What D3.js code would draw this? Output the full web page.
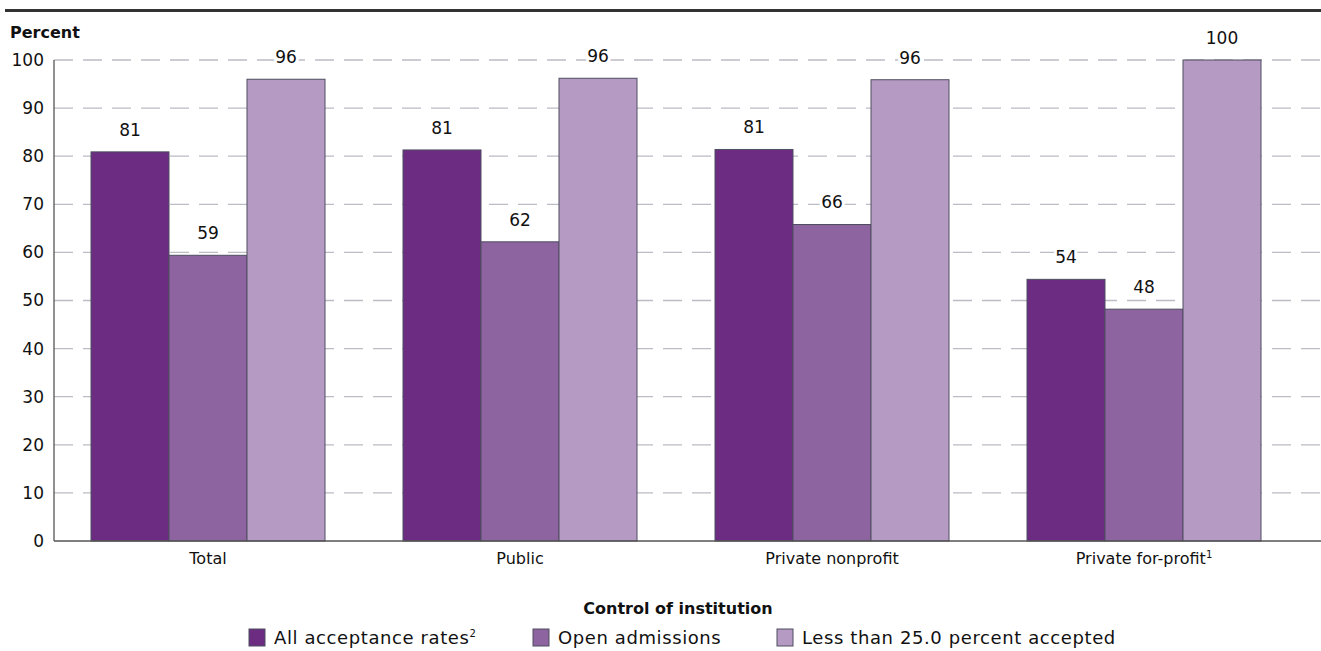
<!DOCTYPE html>
<html>
<head>
<meta charset="utf-8">
<script src="https://cdn.jsdelivr.net/npm/d3@7"></script>
<style>
body{margin:0;background:#fff;}
svg{display:block;font-family:"DejaVu Sans",sans-serif;}
</style>
</head>
<body>
<svg id="chart" width="1321" height="651"></svg>
<script>
const categories = ["Total", "Public", "Private nonprofit", "Private for-profit"];
const categorySup = ["", "", "", "1"];
const seriesNames = ["All acceptance rates", "Open admissions", "Less than 25.0 percent accepted"];
const seriesSup = ["2", "", ""];
const allAcceptance = [80.9, 81.3, 81.4, 54.4];
const openAdmissions = [59.4, 62.2, 65.8, 48.2];
const lessThan25 = [96.0, 96.2, 95.9, 100];
const yTicks = [0, 10, 20, 30, 40, 50, 60, 70, 80, 90, 100];
const colors = ["#6b2c82", "#8d63a0", "#b59ac3"];

const svg = d3.select("#chart");
const W = 1321;
const series = [allAcceptance, openAdmissions, lessThan25];

// top rule
svg.append("line").attr("x1", 5).attr("x2", W).attr("y1", 10.5).attr("y2", 10.5)
  .attr("stroke", "#333").attr("stroke-width", 3);

const x0 = d3.scaleBand().domain(categories).range([52, 1300]).paddingInner(0).paddingOuter(0);
const groupW = 234;
const x1 = d3.scaleBand().domain(d3.range(3)).range([0, groupW]);
const y = d3.scaleLinear().domain([0, 100]).range([541, 60]);
const axisX = 54;

// gridlines
svg.append("g").selectAll("line").data(yTicks.filter(t => t > 0)).join("line")
  .attr("x1", axisX).attr("x2", W).attr("y1", d => y(d)).attr("y2", d => y(d))
  .attr("stroke", "#bcbcc4").attr("stroke-width", 1.3).attr("stroke-dasharray", "19,10");

// y axis labels
const yAxis = d3.axisLeft(y).tickValues(yTicks).tickSize(0).tickPadding(10);
const gy = svg.append("g").attr("transform", `translate(${axisX},0)`).call(yAxis);
gy.select(".domain").remove();
gy.selectAll("text").attr("font-size", 17).attr("fill", "#111").attr("font-family", "DejaVu Sans, sans-serif");

svg.append("text").attr("x", 10).attr("y", 38).text("Percent")
  .attr("font-size", 16).attr("font-weight", "bold").attr("fill", "#111");

// bars
const groups = svg.append("g").selectAll("g").data(categories).join("g")
  .attr("transform", c => `translate(${x0(c) + (x0.bandwidth() - groupW) / 2},0)`);
groups.each(function(c, ci) {
  const g = d3.select(this);
  series.forEach((s, si) => {
    g.append("rect")
      .attr("x", x1(si)).attr("width", x1.bandwidth())
      .attr("y", y(s[ci])).attr("height", y(0) - y(s[ci]))
      .attr("fill", colors[si]).attr("stroke", "#4e4e60").attr("stroke-width", 1);
  });
  series.forEach((s, si) => {
    g.append("text")
      .attr("x", x1(si) + x1.bandwidth() / 2).attr("y", y(s[ci]) - 22)
      .attr("dy", "0.35em").attr("text-anchor", "middle")
      .attr("font-size", 17).attr("fill", "#111")
      .attr("stroke", "#fff").attr("stroke-width", 6).attr("paint-order", "stroke")
      .text(Math.round(s[ci]));
  });
});

// axes lines
svg.append("line").attr("x1", axisX).attr("x2", axisX).attr("y1", y(100)).attr("y2", y(0))
  .attr("stroke", "#555").attr("stroke-width", 1.3);
svg.append("line").attr("x1", axisX).attr("x2", W).attr("y1", y(0)).attr("y2", y(0))
  .attr("stroke", "#555").attr("stroke-width", 1.3);

// category labels
const xAxis = d3.axisBottom(x0).tickSize(0).tickPadding(12);
const gx = svg.append("g").attr("transform", `translate(0,${y(0)})`).call(xAxis);
gx.select(".domain").remove();
gx.selectAll("text").attr("font-size", 16).attr("fill", "#111").attr("font-family", "DejaVu Sans, sans-serif")
  .each(function(d, i) {
    if (categorySup[i]) {
      d3.select(this).append("tspan").attr("font-size", 10).attr("dy", "-0.6em").text(categorySup[i]);
    }
  });

svg.append("text").attr("x", 678).attr("y", 614).attr("text-anchor", "middle")
  .attr("font-size", 16).attr("font-weight", "bold").attr("fill", "#111").text("Control of institution");

// legend
const legendX = [249, 533, 777];
const lg = svg.append("g").selectAll("g").data(seriesNames).join("g")
  .attr("transform", (d, i) => `translate(${legendX[i]},629)`);
lg.append("rect").attr("width", 16).attr("height", 17)
  .attr("fill", (d, i) => colors[i]).attr("stroke", "#4e4e60").attr("stroke-width", 1);
const lt = lg.append("text").attr("x", 25).attr("y", 15).attr("font-size", 18)
  .attr("letter-spacing", 0.6).attr("fill", "#111").text(d => d);
lt.each(function(d, i) {
  if (seriesSup[i]) d3.select(this).append("tspan").attr("font-size", 10).attr("dy", "-0.7em").text(seriesSup[i]);
});
</script>
</body>
</html>
